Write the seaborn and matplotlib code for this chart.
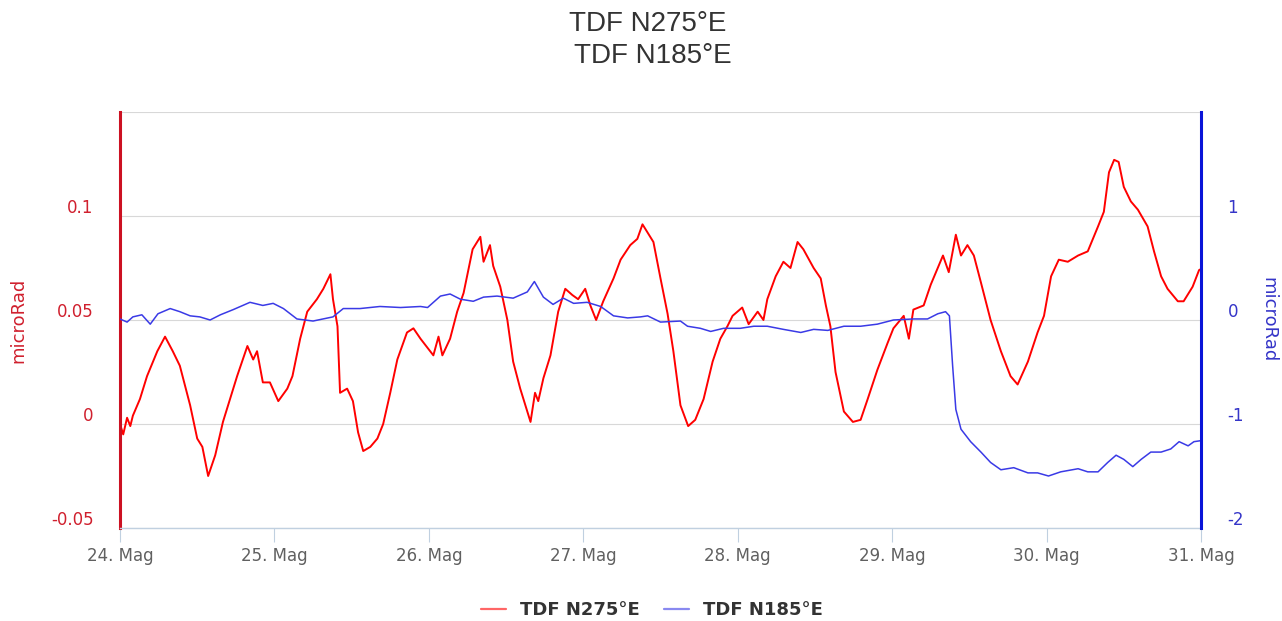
import matplotlib
matplotlib.use("Agg")
import matplotlib.pyplot as plt
import matplotlib.transforms as mtransforms
import pandas as pd
import seaborn as sns

# ---------------- data ----------------
title_lines = ["TDF N275°E", "TDF N185°E"]
series_names = ["TDF N275°E", "TDF N185°E"]
axis_title = "microRad"
day_labels = ["24. Mag", "25. Mag", "26. Mag", "27. Mag",
              "28. Mag", "29. Mag", "30. Mag", "31. Mag"]
day_hours = [0, 24, 48, 72, 96, 120, 144, 168]

left_ticks = [-0.05, 0, 0.05, 0.1, 0.15]
left_tick_labels = ["-0.05", "0", "0.05", "0.1", ""]
right_ticks = [-2, -1, 0, 1, 2]
right_tick_labels = ["-2", "-1", "0", "1", ""]

# hours since 24 May 00:00
red_hours = [0.0, 0.5, 1.1, 1.6, 2.0, 3.1, 4.2, 5.8, 7.0, 8.2,
             9.3, 10.9, 12.0, 12.8, 13.7, 14.8, 16.0, 17.1, 18.2, 19.8,
             20.7, 21.3, 22.2, 23.3, 24.6, 26.0, 26.8, 28.0, 29.1, 30.6,
             31.6, 32.7, 33.1, 33.8, 34.2, 35.3, 36.2, 37.0, 37.8, 38.9,
             40.0, 40.9, 42.0, 43.1, 44.6, 45.6, 46.7, 48.2, 48.7, 49.5,
             50.1, 51.3, 52.4, 53.4, 54.8, 56.0, 56.5, 57.5, 58.0, 59.1,
             60.2, 61.1, 62.2, 63.0, 63.8, 64.5, 65.0, 65.8, 66.9, 68.1,
             69.2, 70.3, 71.2, 72.3, 73.1, 74.0, 75.1, 76.7, 77.8, 79.3,
             80.4, 81.2, 82.0, 82.9, 84.0, 85.1, 86.0, 87.1, 88.3, 89.4,
             90.7, 92.1, 93.3, 94.4, 95.2, 96.7, 97.7, 99.1, 100.0, 100.6,
             101.9, 103.1, 104.2, 105.3, 106.2, 107.8, 108.9, 109.7, 110.4, 111.2,
             112.5, 113.9, 115.1, 116.2, 117.7, 119.3, 120.2, 121.8, 122.6, 123.3,
             124.9, 126.0, 127.9, 128.8, 129.9, 130.7, 131.7, 132.7, 133.8, 135.3,
             136.9, 138.4, 139.5, 141.1, 142.6, 143.6, 144.7, 145.9, 147.3, 148.9,
             150.4, 152.0, 152.9, 153.7, 154.5, 155.2, 156.0, 157.1, 158.2, 159.7,
             160.7, 161.8, 162.8, 164.4, 165.3, 166.7, 167.7, 168.0]
red_values = [0.000, -0.005, 0.003, -0.001, 0.004, 0.012, 0.023, 0.035, 0.042, 0.035,
              0.028, 0.009, -0.007, -0.011, -0.025, -0.015, 0.001, 0.012, 0.023, 0.0375,
              0.031, 0.035, 0.020, 0.020, 0.011, 0.017, 0.023, 0.041, 0.054, 0.060,
              0.065, 0.072, 0.060, 0.047, 0.015, 0.017, 0.011, -0.004, -0.013, -0.011,
              -0.007, 0.000, 0.015, 0.031, 0.044, 0.046, 0.041, 0.035, 0.033, 0.042,
              0.033, 0.041, 0.054, 0.063, 0.084, 0.090, 0.078, 0.086, 0.076, 0.066,
              0.050, 0.030, 0.017, 0.009, 0.001, 0.015, 0.011, 0.022, 0.033, 0.054,
              0.065, 0.062, 0.060, 0.065, 0.057, 0.050, 0.059, 0.070, 0.079, 0.086,
              0.089, 0.096, 0.092, 0.0875, 0.070, 0.053, 0.035, 0.009, -0.001, 0.002,
              0.012, 0.030, 0.041, 0.047, 0.052, 0.056, 0.048, 0.054, 0.050, 0.060,
              0.071, 0.078, 0.075, 0.0875, 0.084, 0.075, 0.070, 0.057, 0.047, 0.025,
              0.006, 0.001, 0.002, 0.012, 0.026, 0.039, 0.046, 0.052, 0.041, 0.055,
              0.057, 0.067, 0.081, 0.073, 0.091, 0.081, 0.086, 0.081, 0.068, 0.050,
              0.035, 0.023, 0.019, 0.030, 0.044, 0.052, 0.071, 0.079, 0.078, 0.081,
              0.083, 0.095, 0.102, 0.121, 0.127, 0.126, 0.114, 0.107, 0.103, 0.095,
              0.083, 0.071, 0.065, 0.059, 0.059, 0.066, 0.074, 0.0745]

blue_hours = [0.0, 1.1, 2.0, 3.4, 4.7, 5.9, 7.8, 9.3, 10.9, 12.4,
              14.0, 15.6, 17.6, 20.2, 22.2, 23.8, 25.4, 27.5, 30.0, 33.1,
              34.7, 37.3, 40.4, 43.6, 46.7, 47.8, 49.8, 51.3, 52.9, 54.9,
              56.5, 58.6, 61.1, 63.3, 64.4, 65.8, 67.3, 68.9, 70.5, 72.6,
              74.7, 76.7, 78.9, 80.9, 82.0, 84.0, 87.1, 88.2, 90.2, 91.8,
              93.8, 96.4, 98.5, 100.6, 103.1, 105.8, 107.8, 110.0, 112.5, 115.1,
              117.7, 120.2, 123.3, 125.5, 127.1, 128.3, 128.9, 129.4, 129.9, 130.7,
              132.2, 133.8, 135.3, 136.9, 138.9, 141.1, 142.6, 144.3, 146.2, 148.9,
              150.4, 152.0, 153.5, 154.8, 156.0, 157.4, 158.7, 160.2, 161.8, 163.3,
              164.6, 166.0, 166.9, 168.0]
blue_values = [0.01, -0.02, 0.03, 0.05, -0.04, 0.06, 0.11, 0.08, 0.04, 0.03,
               0.00, 0.05, 0.10, 0.17, 0.14, 0.16, 0.11, 0.01, -0.01, 0.03,
               0.11, 0.11, 0.13, 0.12, 0.13, 0.12, 0.23, 0.25, 0.20, 0.18,
               0.22, 0.23, 0.21, 0.27, 0.37, 0.22, 0.15, 0.21, 0.16, 0.17,
               0.13, 0.04, 0.02, 0.03, 0.04, -0.02, -0.01, -0.06, -0.08, -0.11,
               -0.08, -0.08, -0.06, -0.06, -0.09, -0.12, -0.09, -0.10, -0.06, -0.06,
               -0.04, 0.00, 0.01, 0.01, 0.06, 0.08, 0.04, -0.44, -0.86, -1.05,
               -1.17, -1.27, -1.37, -1.44, -1.42, -1.47, -1.47, -1.50, -1.46, -1.43,
               -1.46, -1.46, -1.37, -1.30, -1.34, -1.41, -1.34, -1.27, -1.27, -1.24,
               -1.17, -1.21, -1.17, -1.16]

red_df = pd.DataFrame({"hours": red_hours, "value": red_values})
blue_df = pd.DataFrame({"hours": blue_hours, "value": blue_values})

# ---------------- style ----------------
sns.set_theme(style="white")
plt.rcParams["font.family"] = ["DejaVu Sans"]

RED_LINE = "#ff0000"
RED_AXIS = "#cc1122"
RED_TEXT = "#d0202e"
BLUE_LINE = "#3a3ae6"
BLUE_AXIS = "#0a14d8"
BLUE_TEXT = "#3535c8"
GRID = "#d8d8d8"
XAXIS = "#c0d0e0"

W, H = 1282, 621
fig = plt.figure(figsize=(W / 100, H / 100), dpi=100)
fig.patch.set_facecolor("white")
left, right, top, bottom = 120, 1201, 112, 528
ax = fig.add_axes([left / W, 1 - bottom / H, (right - left) / W, (bottom - top) / H])
ax2 = ax.twinx()

sns.lineplot(data=red_df, x="hours", y="value", ax=ax, color=RED_LINE,
             linewidth=1.4, estimator=None, label=series_names[0], legend=False)
sns.lineplot(data=blue_df, x="hours", y="value", ax=ax2, color=BLUE_LINE,
             linewidth=1.1, estimator=None, label=series_names[1], legend=False)

ax.set_xlim(day_hours[0], day_hours[-1])
ax.set_ylim(left_ticks[0], left_ticks[-1])
ax2.set_ylim(right_ticks[0], right_ticks[-1])

# grid (drawn on the left axis)
ax.set_yticks(left_ticks)
ax.set_yticklabels(left_tick_labels)
ax.yaxis.grid(True, color=GRID, linewidth=0.8)
ax.xaxis.grid(False)
ax2.set_yticks(right_ticks)
ax2.set_yticklabels(right_tick_labels)
ax2.grid(False)

ax.set_xticks(day_hours)
ax.set_xticklabels(day_labels)

ax.set_xlabel("")
ax.set_ylabel(axis_title, color=RED_TEXT, fontsize=13)
ax2.set_ylabel(axis_title, color=BLUE_TEXT, fontsize=13, rotation=270)
ax.yaxis.set_label_coords((18 - left) / (right - left), 0.5)
ax2.yaxis.set_label_coords((1268 - left) / (right - left), 0.5)
ax2.yaxis.label.set_verticalalignment("center")
ax.yaxis.label.set_verticalalignment("center")

ax.tick_params(axis="y", length=0, pad=19, labelsize=12, labelcolor=RED_TEXT)
ax2.tick_params(axis="y", length=0, pad=19, labelsize=12, labelcolor=BLUE_TEXT)
ax.tick_params(axis="x", length=10, width=0.8, color=XAXIS, pad=4,
               labelsize=12, labelcolor="#606060", direction="out", bottom=True)

# shift y tick labels up (Highcharts style)
shift = mtransforms.ScaledTranslation(0, 0.10, fig.dpi_scale_trans)
for lab in ax.get_yticklabels() + ax2.get_yticklabels():
    lab.set_transform(lab.get_transform() + shift)

# spines
for a in (ax, ax2):
    a.spines["top"].set_visible(False)
ax.spines["right"].set_visible(False)
ax2.spines["left"].set_visible(False)
ax2.spines["bottom"].set_visible(False)
ax.spines["left"].set_color(RED_AXIS)
ax.spines["left"].set_linewidth(2.2)
ax2.spines["right"].set_color(BLUE_AXIS)
ax2.spines["right"].set_linewidth(2.2)
ax.spines["bottom"].set_color(XAXIS)
ax.spines["bottom"].set_linewidth(1.0)

# title
title_font = ["Liberation Sans", "DejaVu Sans"]
fig.text(648 / W, 1 - 24 / H, title_lines[0], ha="center", va="center",
         fontsize=20, color="#333333", family=title_font)
fig.text(653 / W, 1 - 56 / H, title_lines[1], ha="center", va="center",
         fontsize=20, color="#333333", family=title_font)

# legend
h1, l1 = ax.get_legend_handles_labels()
h2, l2 = ax2.get_legend_handles_labels()
leg = fig.legend(h1 + h2, l1 + l2, loc="center", bbox_to_anchor=(652 / W, 1 - 610 / H),
                 ncol=2, frameon=False, handlelength=1.4, handletextpad=0.8,
                 columnspacing=1.3, prop={"weight": "bold", "size": 13})
for t in leg.get_texts():
    t.set_color("#333333")
for ln in leg.get_lines():
    ln.set_alpha(0.6)
    ln.set_linewidth(1.6)

fig.savefig("out.png", dpi=100, facecolor="white")
